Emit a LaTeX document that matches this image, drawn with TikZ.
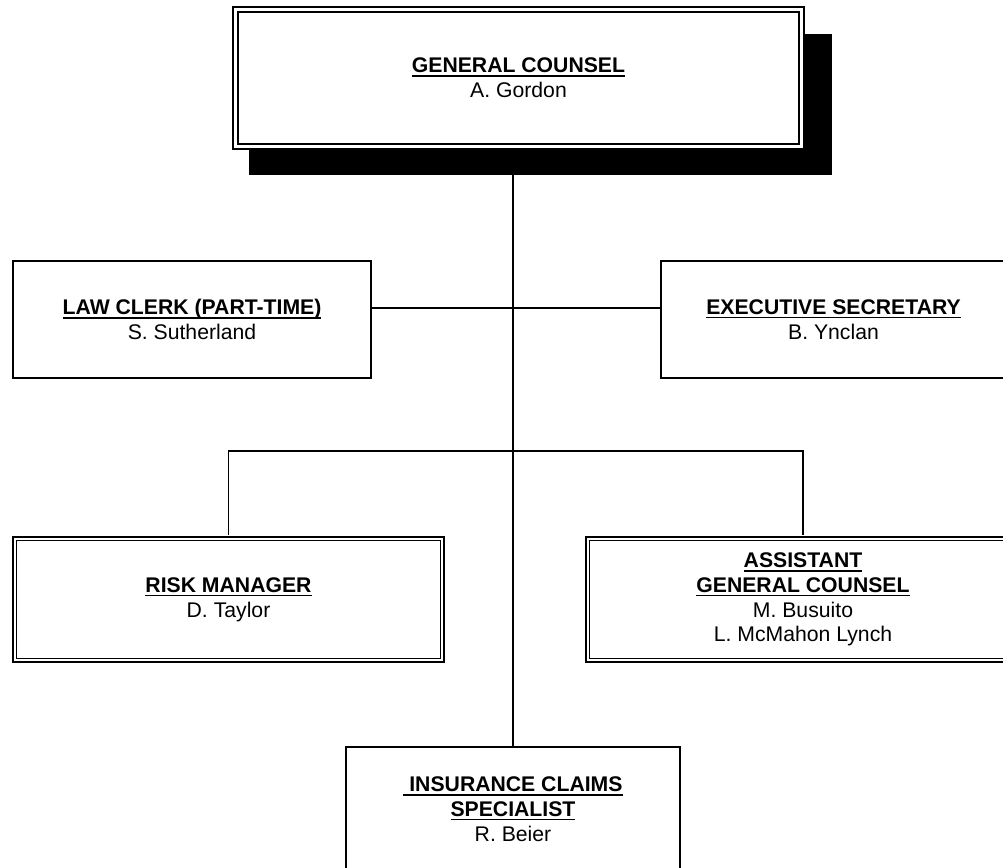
\documentclass[tikz,border=0pt]{standalone}
\usepackage{fontspec}
\setmainfont{Liberation Sans}
\usetikzlibrary{shadows}

\newcommand{\rolehead}[1]{\setbox0=\hbox{\bfseries#1}\rlap{\rule[-2pt]{\wd0}{0.9pt}}\box0}

\begin{document}
\begin{tikzpicture}[x=0.5pt, y=-0.5pt,
    box/.style={draw=black, line width=1pt, fill=white, align=center,
                font=\fontsize{10.6}{12.4}\selectfont, inner sep=0pt},
    dbox/.style={box, line width=#1, double=white, double distance=#1},
    lnk/.style={line width=0.8pt, black}]
  \useasboundingbox (0,0) rectangle (1003,868);

  % ── general counsel ──────────────────────────────────────
  \node[dbox=1.2pt, minimum width=282.9pt, minimum height=68.4pt,
        general shadow={shadow xshift=10.75pt, shadow yshift=-12.75pt,
                        shadow scale=1.03, fill=black}]
    (gc) at (518.5,78) {\rolehead{GENERAL COUNSEL}\\A. Gordon};

  % ── staff ────────────────────────────────────────────────
  \node[box, minimum width=179pt, minimum height=58.5pt] (lc) at (192,319.5)
    {\rolehead{LAW CLERK (PART-TIME)}\\S. Sutherland};
  \node[box, minimum width=172.5pt, minimum height=58.5pt] (es) at (833.5,319.5)
    {\rolehead{EXECUTIVE SECRETARY}\\B. Ynclan};
  \draw[lnk] ([yshift=5.75pt]lc.east) -- ([yshift=5.75pt]es.west);

  % ── managers ─────────────────────────────────────────────
  \node[dbox=0.9pt, minimum width=213.8pt, minimum height=60.8pt] (rm) at (228.5,599.5)
    {\rolehead{RISK MANAGER}\\D. Taylor};
  \node[dbox=0.9pt, minimum width=215.3pt, minimum height=60.8pt] (ag) at (803,599.5)
    {\rolehead{ASSISTANT}\\\rolehead{GENERAL COUNSEL}\\M. Busuito\\L. McMahon Lynch};
  \draw[lnk] ([yshift=1.35pt]rm.north) -- ++(0,-84) -| ([yshift=1.35pt]ag.north);

  % ── claims ───────────────────────────────────────────────
  \node[box, minimum width=167pt, minimum height=62pt] (ic) at (513,809)
    {\rolehead{\ INSURANCE CLAIMS}\\\rolehead{SPECIALIST}\\R. Beier};
  \draw[lnk] (ic.north) -- ([yshift=-1.8pt]ic.north |- gc.south);

\end{tikzpicture}
\end{document}
